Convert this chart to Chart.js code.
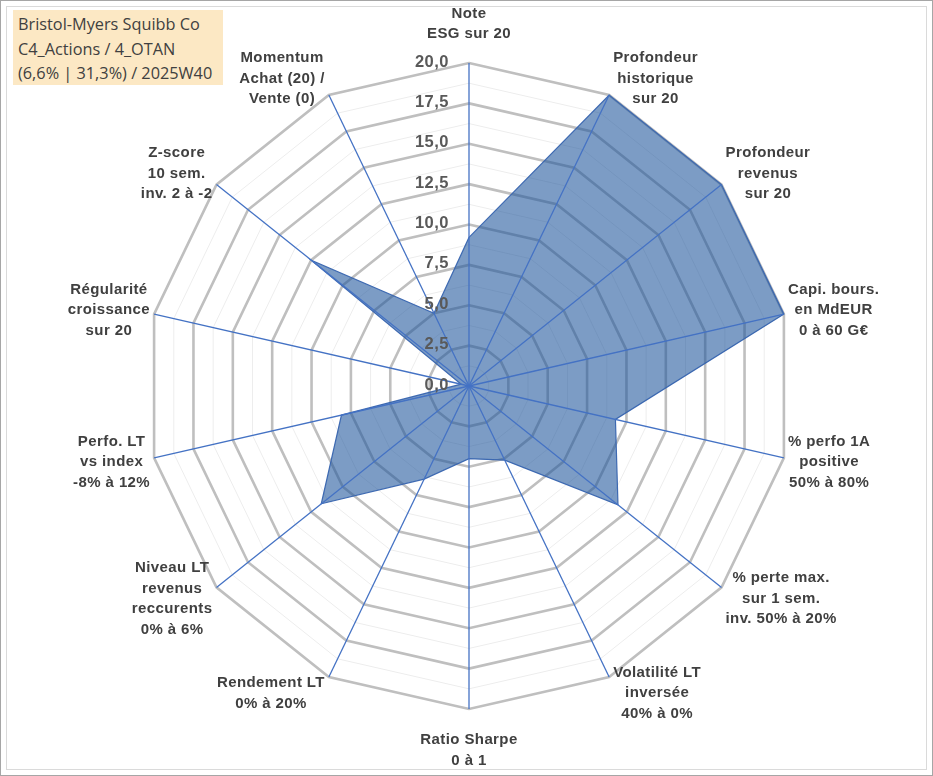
<!DOCTYPE html>
<html>
<head>
<meta charset="utf-8">
<script src="https://cdn.jsdelivr.net/npm/chart.js@4.4.1/dist/chart.umd.min.js"></script>
<style>
  html, body { margin: 0; padding: 0; background: #ffffff; }
  #wrap { position: relative; width: 933px; height: 776px; background: #ffffff; overflow: hidden; }
  #outer { position: absolute; left: 0; top: 0; width: 931px; height: 774px; border: 1px solid #A6A6A6; pointer-events: none; }
  #inner { position: absolute; left: 6px; top: 6px; width: 919px; height: 762px; border: 1px solid #DADADA; pointer-events: none; }
  #chart { position: absolute; left: 0; top: 0; width: 933px; height: 776px; }
  #title { position: absolute; left: 13px; top: 10px; width: 205px; height: 73px; padding: 2px 0 0 5px;
           background: #FCE8C4; font-family: "Open Sans", "Liberation Sans", sans-serif; font-size: 16.3px;
           line-height: 24.5px; color: #404040; white-space: nowrap; box-sizing: content-box; }
</style>
</head>
<body>
<div id="wrap">
  <div id="chart"><canvas id="c"></canvas></div>
  <div id="outer"></div>
  <div id="inner"></div>
  <div id="title">Bristol-Myers Squibb Co<br>C4_Actions / 4_OTAN<br>(6,6% | 31,3%) / 2025W40</div>
</div>
<script>
// ---- data ----
const categories = [
  ["Note", "ESG sur 20"],
  ["Profondeur", "historique", "sur 20"],
  ["Profondeur", "revenus", "sur 20"],
  ["Capi. bours.", "en MdEUR", "0 à 60 G€"],
  ["% perfo 1A", "positive", "50% à 80%"],
  ["% perte max.", "sur 1 sem.", "inv. 50% à 20%"],
  ["Volatilité LT", "inversée", "40% à 0%"],
  ["Ratio Sharpe", "0 à 1"],
  ["Rendement LT", "0% à 20%"],
  ["Niveau LT", "revenus", "reccurents", "0% à 6%"],
  ["Perfo. LT", "vs index", "-8% à 12%"],
  ["Régularité", "croissance", "sur 20"],
  ["Z-score", "10 sem.", "inv. 2 à -2"],
  ["Momentum", "Achat (20) /", "Vente (0)"]
];
const scores = [9.2, 20, 20, 20, 9.3, 11.8, 5.1, 4.5, 6.4, 11.7, 8.1, 0.5, 12.5, 5.0];
const tickValues = [0, 2.5, 5, 7.5, 10, 12.5, 15, 17.5, 20];
const tickLabels = ["0,0", "2,5", "5,0", "7,5", "10,0", "12,5", "15,0", "17,5", "20,0"];
const scaleMin = 0;
const scaleMax = 20;
const minorStep = 1.25;

// ---- plugin: angle lines on top of fill, tick labels, point labels ----
const overlayPlugin = {
  id: 'overlay',
  afterDatasetsDraw(chart) {
    const s = chart.scales.r;
    const ctx = chart.ctx;
    ctx.save();
    ctx.strokeStyle = '#4472C4';
    ctx.lineWidth = 1.3;
    for (let i = 0; i < categories.length; i++) {
      const p = s.getPointPosition(i, s.getDistanceFromCenterForValue(scaleMax));
      ctx.beginPath();
      ctx.moveTo(s.xCenter, s.yCenter);
      ctx.lineTo(p.x, p.y);
      ctx.stroke();
    }
    ctx.restore();
  },
  afterDraw(chart) {
    const s = chart.scales.r;
    const ctx = chart.ctx;
    ctx.save();
    // tick labels
    ctx.font = 'bold 16.5px "Liberation Sans", Arial, sans-serif';
    try { ctx.letterSpacing = '0.5px'; } catch (e) {}
    ctx.fillStyle = '#595959';
    ctx.textAlign = 'right';
    ctx.textBaseline = 'middle';
    tickValues.forEach((v, i) => {
      const d = s.getDistanceFromCenterForValue(v);
      ctx.fillText(tickLabels[i], s.xCenter - 20, s.yCenter - d - 1);
    });
    // point labels (Excel-like placement outside each axis end)
    ctx.font = 'bold 15px "Liberation Sans", Arial, sans-serif';
    try { ctx.letterSpacing = '0.4px'; } catch (e) {}
    ctx.fillStyle = '#404040';
    ctx.textAlign = 'center';
    const lh = 20.5;
    categories.forEach((lines, i) => {
      const a = s.getIndexAngle(i);
      const sn = Math.sin(a), cs = Math.cos(a);
      const v = s.getPointPosition(i, s.getDistanceFromCenterForValue(scaleMax));
      const h = lines.length * lh;
      const w = Math.max(...lines.map(t => ctx.measureText(t).width));
      let cx, cy;
      if (Math.abs(sn) < 0.05) {
        cx = v.x;
        cy = v.y - Math.sign(cs) * (h / 2 + 19.75 - cs * 1.25);
      } else {
        cx = v.x + Math.sign(sn) * (w / 2 + 4);
        cy = v.y - cs * 18;
      }
      const y0 = cy - (lines.length - 1) * lh / 2;
      lines.forEach((t, k) => ctx.fillText(t, cx, y0 + k * lh));
    });
    ctx.restore();
  }
};

const isMajor = (v) => Math.abs(v / 2.5 - Math.round(v / 2.5)) < 1e-6;

new Chart(document.getElementById('c'), {
  type: 'radar',
  data: {
    labels: categories,
    datasets: [{
      data: scores,
      fill: true,
      backgroundColor: 'rgba(30, 85, 155, 0.58)',
      borderColor: 'rgba(55, 100, 175, 0.95)',
      borderWidth: 1.2,
      pointRadius: 0,
      pointHoverRadius: 0,
      tension: 0
    }]
  },
  options: {
    responsive: true,
    maintainAspectRatio: false,
    animation: false,
    events: [],
    layout: { padding: { left: 5, right: 0, top: 63, bottom: 67 } },
    plugins: { legend: { display: false }, tooltip: { enabled: false }, title: { display: false } },
    scales: {
      r: {
        min: scaleMin,
        max: scaleMax,
        beginAtZero: true,
        ticks: { display: false, stepSize: minorStep, maxTicksLimit: 50 },
        pointLabels: { display: false },
        angleLines: { display: false },
        grid: {
          circular: false,
          color: (c) => (c.tick && isMajor(c.tick.value)) ? '#BFBFBF' : '#EDEDED',
          lineWidth: (c) => (c.tick && isMajor(c.tick.value)) ? 2.6 : 1
        }
      }
    }
  },
  plugins: [overlayPlugin]
});
</script>
</body>
</html>
